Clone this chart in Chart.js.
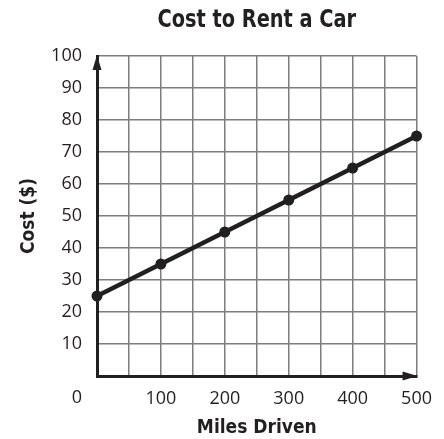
<!DOCTYPE html>
<html>
<head>
<meta charset="utf-8">
<script src="https://cdn.jsdelivr.net/npm/chart.js@4"></script>
<style>
  html, body { margin: 0; padding: 0; background: #fff; }
  #wrap { width: 444px; height: 439px; }
</style>
</head>
<body>
<div id="wrap"><canvas id="carChart"></canvas></div>
<script>
// data
const miles = [0, 100, 200, 300, 400, 500];
const cost = [25, 35, 45, 55, 65, 75];
const xTicks = [100, 200, 300, 400, 500];
const yTicks = [10, 20, 30, 40, 50, 60, 70, 80, 90, 100];
const chartTitle = 'Cost to Rent a Car';

const ink = '#231f20';
const tickFont = { family: '"Open Sans", sans-serif', size: 18 };
const headFont = '"Liberation Sans Narrow", "DejaVu Sans Condensed", sans-serif';

// title over the plot, arrow heads on the axes + the shared origin "0"
const axisExtras = {
  id: 'axisExtras',
  afterDraw(chart) {
    const ctx = chart.ctx;
    const x = chart.scales.x, y = chart.scales.y;
    const x0 = x.getPixelForValue(0), y0 = y.getPixelForValue(0);
    const xEnd = x.getPixelForValue(500), yEnd = y.getPixelForValue(100);
    ctx.save();
    ctx.fillStyle = ink;
    ctx.beginPath();
    ctx.moveTo(x0, yEnd - 1);
    ctx.lineTo(x0 - 4.5, yEnd + 14);
    ctx.lineTo(x0 + 4.5, yEnd + 14);
    ctx.closePath();
    ctx.fill();
    ctx.beginPath();
    ctx.moveTo(xEnd + 1, y0);
    ctx.lineTo(xEnd - 14, y0 - 4.5);
    ctx.lineTo(xEnd - 14, y0 + 4.5);
    ctx.closePath();
    ctx.fill();
    // origin label
    ctx.font = tickFont.size + 'px ' + tickFont.family;
    ctx.textAlign = 'right';
    ctx.textBaseline = 'middle';
    ctx.fillText('0', x0 - 15, y0 + 22);
    // title, squeezed a bit to look condensed
    const cx = (chart.chartArea.left + chart.chartArea.right) / 2;
    ctx.translate(cx, 20);
    ctx.scale(0.86, 1);
    ctx.font = 'bold 25px ' + headFont;
    ctx.textAlign = 'center';
    ctx.fillText(chartTitle, 0, 0);
    ctx.restore();
  }
};

const ctx = document.getElementById('carChart').getContext('2d');
const chart = new Chart(ctx, {
  type: 'line',
  data: {
    datasets: [{
      data: miles.map((m, i) => ({ x: m, y: cost[i] })),
      borderColor: ink,
      backgroundColor: ink,
      borderWidth: 4.5,
      pointRadius: 5.5,
      pointBackgroundColor: ink,
      pointBorderWidth: 0,
      fill: false,
      clip: false,
    }],
  },
  options: {
    responsive: true,
    maintainAspectRatio: false,
    animation: false,
    layout: { padding: { left: 0, right: 27, top: 56, bottom: 0 } },
    plugins: {
      legend: { display: false },
      tooltip: { enabled: false },
      title: { display: false },
    },
    scales: {
      x: {
        type: 'linear',
        min: 0,
        max: 500,
        afterFit(scale) { scale.height = 63; },
        ticks: {
          stepSize: 50,
          autoSkip: false,
          maxRotation: 0,
          padding: 12,
          color: ink,
          font: tickFont,
          callback: (v) => xTicks.includes(v) ? String(v) : '',
        },
        grid: { color: '#7d7d7d', lineWidth: 1.5, drawTicks: false },
        border: { color: ink, width: 3 },
        title: {
          display: true,
          text: 'Miles Driven',
          color: ink,
          font: { family: headFont, size: 19, weight: 'bold', lineHeight: 1.2 },
          padding: { top: 0, bottom: 0 },
        },
      },
      y: {
        min: 0,
        max: 100,
        afterFit(scale) { scale.width = 97; },
        ticks: {
          stepSize: 10,
          padding: 15,
          color: ink,
          font: tickFont,
          callback: (v) => yTicks.includes(v) ? String(v) : '',
        },
        grid: { color: '#7d7d7d', lineWidth: 1.5, drawTicks: false },
        border: { color: ink, width: 3 },
        title: {
          display: true,
          text: 'Cost ($)',
          color: ink,
          font: { family: headFont, size: 19, weight: 'bold', lineHeight: 1.2 },
          padding: { top: 17.6, bottom: 0 },
        },
      },
    },
  },
  plugins: [axisExtras],
});
</script>
</body>
</html>
